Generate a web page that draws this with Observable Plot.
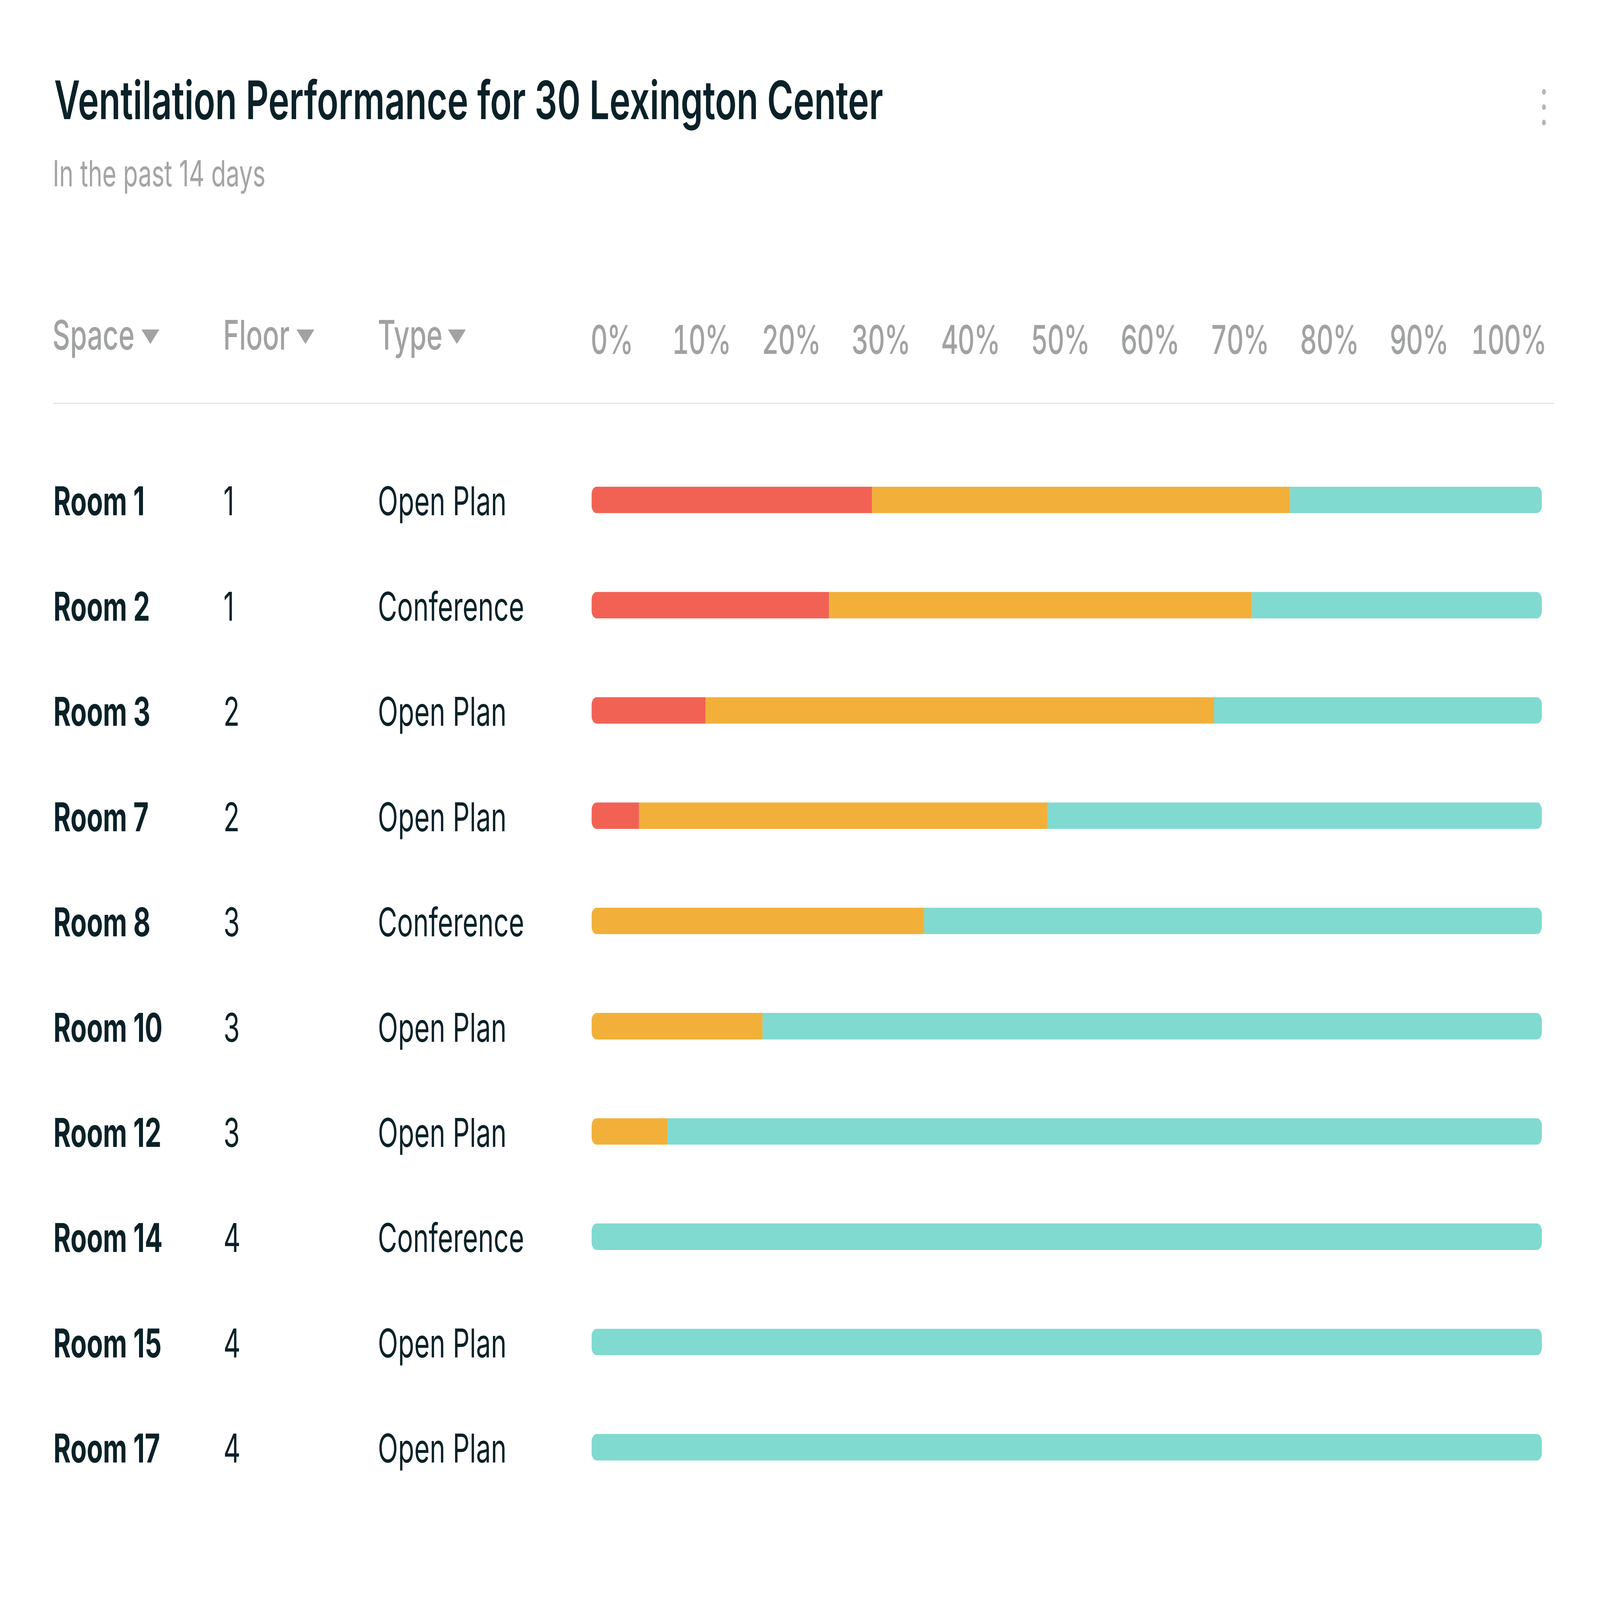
<!DOCTYPE html>
<html>
<head>
<meta charset="utf-8">
<script src="https://cdn.jsdelivr.net/npm/d3@7"></script>
<script src="https://cdn.jsdelivr.net/npm/@observablehq/plot@0.6"></script>
<style>
  html, body { margin: 0; padding: 0; background: #ffffff; overflow: hidden; }
  #page { position: absolute; left: 0; top: 0; width: 7501px; height: 5001px; transform-origin: 0 0; background: #ffffff; font-family: Inter, "Noto Sans", sans-serif; overflow: hidden; }
  .abs { position: absolute; white-space: nowrap; line-height: 1; }
  #title { left: 254px; top: 229px; font-size: 166px; font-weight: 600; color: #0a2128; }
  #subtitle { left: 247px; top: 485px; font-size: 113px; font-weight: 400; color: #a4a4a4; }
  .hdr { top: 983px; font-size: 128px; font-weight: 500; color: #a1a3a2; }
  .tri { position: absolute; width: 0; height: 0; border-left: 42px solid transparent; border-right: 42px solid transparent; border-top: 45px solid #a1a3a2; top: 1030px; }
  .dot { position: absolute; width: 18px; height: 18px; border-radius: 50%; background: #b5b5b5; left: 7229px; }
  #divider { position: absolute; left: 250px; top: 1259px; width: 7035px; height: 4px; background: #e4e4e4; }
  #axis, #chart { position: absolute; left: 0; }
  #axis { top: 900px; }
  #chart { top: 1250px; }
</style>
</head>
<body>
<div id="page">
<div id="title" class="abs">Ventilation Performance for 30 Lexington Center</div>
<div id="subtitle" class="abs">In the past 14 days</div>
<div class="dot" style="top:278px"></div>
<div class="dot" style="top:326px"></div>
<div class="dot" style="top:374px"></div>
<div class="abs hdr" style="left:246px">Space</div>
<div class="tri" style="left:663px"></div>
<div class="abs hdr" style="left:1046px">Floor</div>
<div class="tri" style="left:1390px"></div>
<div class="abs hdr" style="left:1771px">Type</div>
<div class="tri" style="left:2100px"></div>
<div id="divider"></div>
<div id="axis"></div>
<div id="chart"></div>
</div>
<script>
// ---- data ----
const rooms  = ["Room 1", "Room 2", "Room 3", "Room 7", "Room 8", "Room 10", "Room 12", "Room 14", "Room 15", "Room 17"];
const floors = ["1", "1", "2", "2", "3", "3", "3", "4", "4", "4"];
const types  = ["Open Plan", "Conference", "Open Plan", "Open Plan", "Conference", "Open Plan", "Open Plan", "Conference", "Open Plan", "Open Plan"];
const statuses = ["Poor", "Fair", "Good"];
const poor = [29.5, 25, 12, 5, 0, 0, 0, 0, 0, 0];
const fair = [44, 44.5, 53.5, 43, 35, 18, 8, 0, 0, 0];
const good = [26.5, 30.5, 34.5, 52, 65, 82, 92, 100, 100, 100];
const ticks = [0, 10, 20, 30, 40, 50, 60, 70, 80, 90, 100];
const statusColors = ["#f26254", "#f2b03a", "#80dad0"];

// long table for the library
const series = [poor, fair, good];
const long = [];
rooms.forEach((room, i) => {
  statuses.forEach((s, k) => long.push({room, status: s, value: series[k][i]}));
});
const rows = rooms.map((room, i) => ({room, floor: floors[i], type: types[i]}));

const textColor = "#0a2128";
const W = 7501, H = 5001;

// map the 7501x5001 design onto whatever viewport the browser really has
function fit() {
  const vw = document.documentElement.clientWidth || window.innerWidth;
  const vh = document.documentElement.clientHeight || window.innerHeight;
  document.getElementById("page").style.transform = `scale(${vw / W}, ${vh / H})`;
}
fit();
window.addEventListener("resize", fit);

// ---- header axis (percent labels) ----
const axis = Plot.plot({
  width: W,
  height: 250,
  marginLeft: 2867,
  marginRight: 429,
  marginTop: 206,
  marginBottom: 0,
  style: {fontFamily: "Inter, 'Noto Sans', sans-serif", color: "#a1a3a2", background: "transparent", overflow: "visible", fontVariantNumeric: "proportional-nums", letterSpacing: "-3px"},
  x: {domain: [0, 100]},
  marks: [
    Plot.axisX(ticks, {anchor: "top", tickSize: 0, tickPadding: 0, tickFormat: d => d + "%", fontSize: 124, fontWeight: 500, label: null})
  ]
});
document.getElementById("axis").appendChild(axis);

// ---- main chart ----
const chart = Plot.plot({
  width: W,
  height: 3600,
  marginLeft: 2773,
  marginRight: 272,
  marginTop: 22,
  marginBottom: 36,
  style: {fontFamily: "Inter, 'Noto Sans', sans-serif", background: "transparent", overflow: "visible"},
  x: {domain: [0, 100], axis: null},
  y: {domain: rooms, padding: 0.748, axis: null},
  color: {domain: statuses, range: statusColors},
  marks: [
    Plot.barX(long, Plot.stackX({x: "value", y: "room", fill: "status"})),
    Plot.text(rows, {y: "room", text: "room", frameAnchor: "left", textAnchor: "start", dx: -2523, dy: 8, fontSize: 124, fontWeight: 700, fill: textColor}),
    Plot.text(rows, {y: "room", text: "floor", frameAnchor: "left", textAnchor: "start", dx: -1726, dy: 8, fontSize: 124, fontWeight: 400, fill: textColor}),
    Plot.text(rows, {y: "room", text: "type", frameAnchor: "left", textAnchor: "start", dx: -1002, dy: 8, fontSize: 124, fontWeight: 400, fill: textColor})
  ]
});
document.getElementById("chart").appendChild(chart);

// rounded ends: clip the stacked bars to one rounded track per row
const xs = chart.scale("x"), ys = chart.scale("y");
const svg = d3.select(chart);
const clip = svg.append("defs").append("clipPath").attr("id", "trackclip");
rooms.forEach(r => {
  clip.append("rect")
    .attr("x", xs.apply(0))
    .attr("width", xs.apply(100) - xs.apply(0))
    .attr("y", ys.apply(r))
    .attr("height", ys.bandwidth)
    .attr("rx", 25).attr("ry", 25);
});
svg.selectAll("g[aria-label='bar']").attr("clip-path", "url(#trackclip)");
</script>
</body>
</html>
